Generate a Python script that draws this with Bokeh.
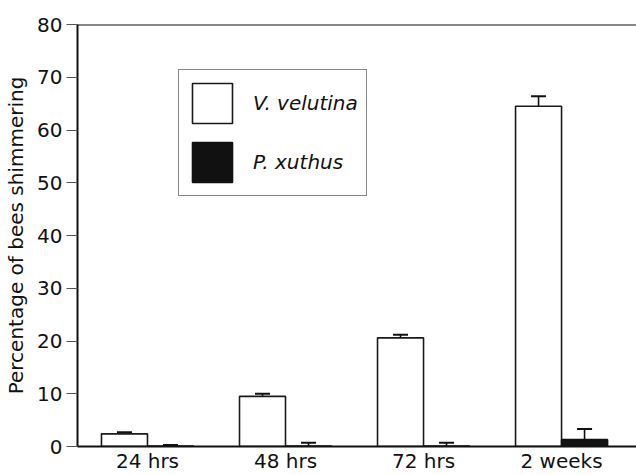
import numpy as np
from bokeh.plotting import figure
from bokeh.models import (ColumnDataSource, Range1d, FixedTicker, Whisker, TeeHead,
                          Legend, LegendItem, Span)
from bokeh.embed import file_html
from bokeh.resources import INLINE

# ---- data ----
categories = ["24 hrs", "48 hrs", "72 hrs", "2 weeks"]
velutina = [2.4, 9.5, 20.6, 64.5]
velutina_err = [0.3, 0.5, 0.6, 1.9]
xuthus = [0.1, 0.1, 0.1, 1.3]
xuthus_err = [0.2, 0.6, 0.6, 2.0]
y_ticks = [0, 10, 20, 30, 40, 50, 60, 70, 80]

FONT = "DejaVu Sans"
bar_w = 1.0 / 3.0
idx = np.arange(len(categories))

src_v = ColumnDataSource(dict(x=idx - bar_w / 2, top=velutina,
                              upper=np.array(velutina) + np.array(velutina_err)))
src_x = ColumnDataSource(dict(x=idx + bar_w / 2, top=xuthus,
                              upper=np.array(xuthus) + np.array(xuthus_err)))

p = figure(width=636, height=475, output_backend="svg", toolbar_location=None,
           x_range=Range1d(-0.507, 3.543), y_range=Range1d(0, 80),
           min_border_left=77, min_border_right=0, min_border_top=24, min_border_bottom=28)
p.outline_line_color = None
p.grid.visible = False
p.background_fill_color = "white"
p.border_fill_color = "white"

r_v = p.vbar(x="x", top="top", width=bar_w, bottom=0, source=src_v,
             fill_color="white", line_color="#1a1a1a", line_width=1.6)
r_x = p.vbar(x="x", top="top", width=bar_w, bottom=0, source=src_x,
             fill_color="#111111", line_color="#111111", line_width=1.6)

for src in (src_v, src_x):
    w = Whisker(base="x", upper="upper", lower="top", source=src, dimension="height",
                line_color="#111111", line_width=1.6,
                upper_head=TeeHead(size=15, line_width=2, line_color="#111111"),
                lower_head=None)
    p.add_layout(w)

# top frame line
p.add_layout(Span(location=80, dimension="width", line_color="#111111", line_width=2))

# x axis
p.xaxis.ticker = FixedTicker(ticks=list(idx))
p.xaxis.major_label_overrides = {int(i): c for i, c in zip(idx, categories)}
p.xaxis.major_tick_line_color = None
p.xaxis.major_tick_out = 0
p.xaxis.major_tick_in = 0
p.xaxis.minor_tick_line_color = None
p.xaxis.axis_line_width = 2
p.xaxis.axis_line_color = "#111111"
p.xaxis.major_label_text_font = FONT
p.xaxis.major_label_text_font_size = "20px"
p.xaxis.major_label_text_line_height = 1.0
p.xaxis.major_label_text_color = "#111111"
p.xaxis.major_label_standoff = 2

# y axis
p.yaxis.ticker = FixedTicker(ticks=y_ticks)
p.yaxis.minor_tick_line_color = None
p.yaxis.major_tick_in = 0
p.yaxis.major_tick_out = 11
p.yaxis.major_tick_line_color = "#555555"
p.yaxis.major_tick_line_width = 1
p.yaxis.axis_line_width = 2
p.yaxis.axis_line_color = "#111111"
p.yaxis.major_label_text_font = FONT
p.yaxis.major_label_text_font_size = "20px"
p.yaxis.major_label_text_color = "#111111"
p.yaxis.major_label_standoff = 4
p.yaxis.axis_label = "Percentage of bees shimmering"
p.yaxis.axis_label_text_font = FONT
p.yaxis.axis_label_text_font_size = "20px"
p.yaxis.axis_label_text_font_style = "normal"
p.yaxis.axis_label_text_color = "#111111"
p.yaxis.axis_label_standoff = 6

legend = Legend(items=[LegendItem(label="V. velutina", renderers=[r_v]),
                       LegendItem(label="P. xuthus", renderers=[r_x])],
                location=(101, 250), glyph_width=50, glyph_height=50,
                padding=8, spacing=9, label_standoff=16,
                label_text_font=FONT, label_text_font_style="italic",
                label_text_font_size="20px", label_text_color="#111111",
                border_line_color="#111111", border_line_width=1.6,
                background_fill_color="white", background_fill_alpha=1.0,
                margin=0)
p.add_layout(legend)

open("out.html", "w").write(file_html(p, INLINE))
